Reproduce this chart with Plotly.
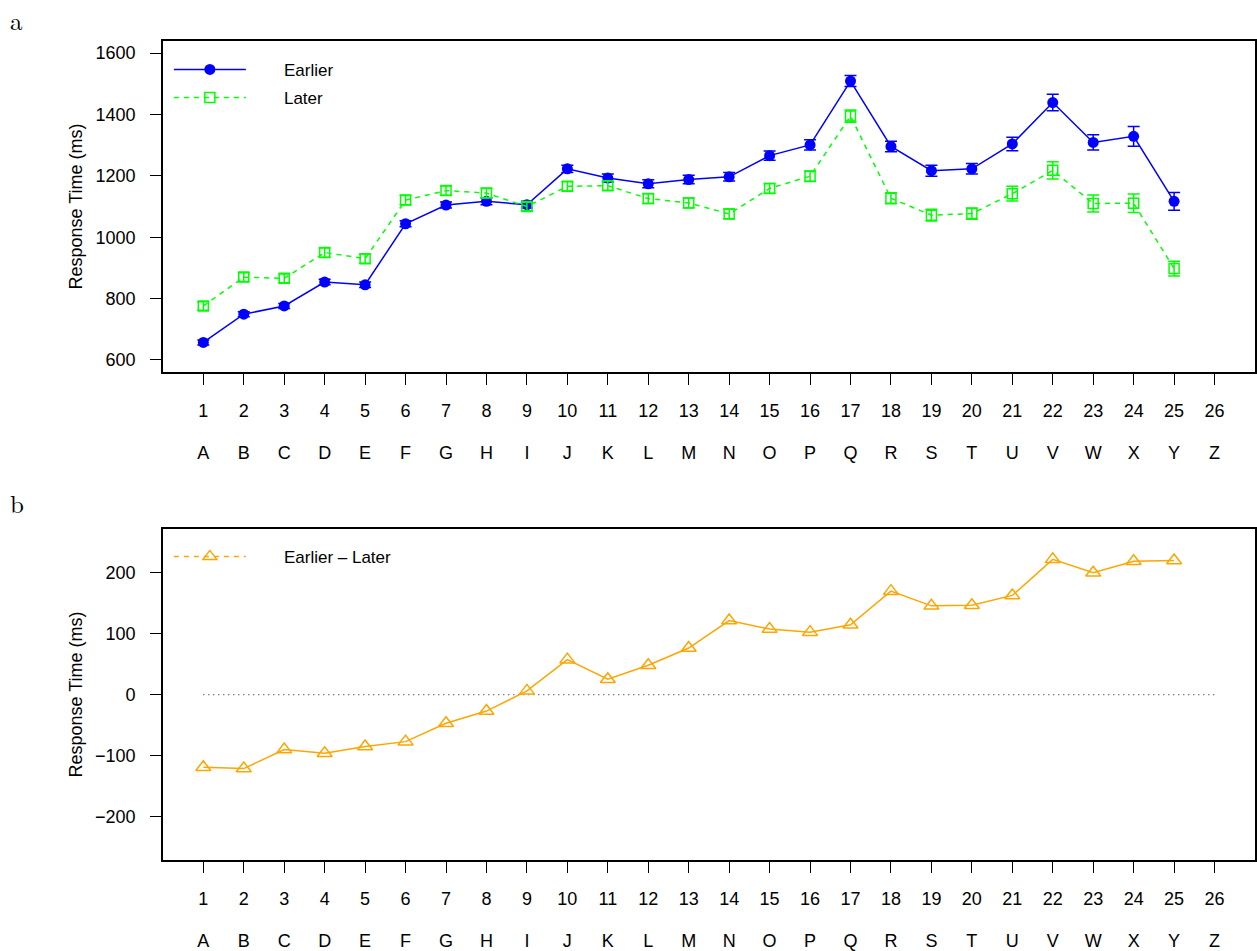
import plotly.graph_objects as go

# Stimulus positions and their two label rows
positions = list(range(1, 26))
tick_positions = list(range(1, 27))
tick_numbers = [str(i) for i in range(1, 27)]
tick_letters = [chr(ord("A") + i) for i in range(26)]

# Mean response times (ms) and standard errors
earlier = [657, 749, 776, 854, 845, 1044, 1105, 1117, 1106, 1223, 1193, 1174, 1188,
           1197, 1266, 1301, 1509, 1296, 1217, 1223, 1304, 1439, 1309, 1329, 1117]
later = [776, 870, 866, 950, 930, 1121, 1152, 1144, 1100, 1166, 1168, 1126, 1112,
         1076, 1159, 1199, 1395, 1127, 1072, 1077, 1142, 1218, 1110, 1111, 898]
earlier_se = [8, 8, 8, 9, 9, 10, 10, 11, 11, 12, 13, 13, 14, 14, 15, 17, 18, 17, 18,
              17, 22, 27, 25, 32, 29]
later_se = [14, 14, 14, 15, 15, 15, 15, 15, 14, 15, 15, 16, 16, 16, 16, 17, 20, 18,
            19, 18, 24, 28, 28, 30, 24]
difference = [e - l for e, l in zip(earlier, later)]

W, H = 1257, 951
BLUE, GREEN, ORANGE = "#0000FF", "#00FF00", "#FFA500"
FONT = "Liberation Sans, Arial, sans-serif"
SERIF = "Latin Modern Roman, Liberation Serif, serif"
PAD = "\u00a0" * 7  # gap between legend sample and its label


def px_x(p):
    return p / W


def px_y(p):
    return 1 - p / H


fig = go.Figure()

# Panel a
fig.add_trace(go.Scatter(
    x=positions, y=earlier, name=PAD + "Earlier", xaxis="x", yaxis="y",
    mode="lines+markers", legend="legend", legendgroup="e",
    line=dict(color=BLUE, width=1.5),
    marker=dict(symbol="circle", size=11, color=BLUE),
    error_y=dict(type="data", array=earlier_se, color=BLUE, thickness=1.5, width=6),
))
fig.add_trace(go.Scatter(
    x=positions, y=later, name=PAD + "Later", xaxis="x", yaxis="y",
    mode="lines+markers", legend="legend", legendgroup="l",
    line=dict(color=GREEN, width=1.5, dash="5px,5px"),
    marker=dict(symbol="square-open", size=10, color=GREEN, line=dict(width=1.5, color=GREEN)),
    error_y=dict(type="data", array=later_se, color=GREEN, thickness=1.5, width=6),
))
# carrier for the letter row of panel a
fig.add_trace(go.Scatter(x=positions, y=earlier, xaxis="x3", yaxis="y", mode="lines",
                         opacity=0, showlegend=False, hoverinfo="skip"))

# Panel b
fig.add_trace(go.Scatter(
    x=[1, 26], y=[0, 0], xaxis="x2", yaxis="y2", mode="lines",
    line=dict(color="#444444", width=1.2, dash="1px,4px"), showlegend=False, hoverinfo="skip",
))
fig.add_trace(go.Scatter(
    x=positions, y=difference, xaxis="x2", yaxis="y2", mode="lines+markers",
    showlegend=False,
    line=dict(color=ORANGE, width=1.5),
    marker=dict(symbol="triangle-up-open", size=13, color=ORANGE, line=dict(width=1.5, color=ORANGE)),
))
fig.add_trace(go.Scatter(
    x=[None], y=[None], xaxis="x2", yaxis="y2", name=PAD + "Earlier – Later",
    mode="lines+markers", legend="legend2",
    line=dict(color=ORANGE, width=1.5, dash="5px,5px"),
    marker=dict(symbol="triangle-up-open", size=12, color=ORANGE, line=dict(width=1.5, color=ORANGE)),
))
fig.add_trace(go.Scatter(x=positions, y=difference, xaxis="x4", yaxis="y2", mode="lines",
                         opacity=0, showlegend=False, hoverinfo="skip"))

x_dom = [px_x(163), px_x(1256)]
top_dom = [px_y(373), px_y(41)]
bot_dom = [px_y(862), px_y(530)]

common_x = dict(range=[0, 27], tickmode="array", tickvals=tick_positions,
                showgrid=False, zeroline=False, tickfont=dict(family=FONT, size=18, color="black"))
frame_x = dict(common_x, ticktext=tick_numbers, ticks="outside", ticklen=11, tickwidth=1.2,
               tickcolor="black", showline=True, mirror=True, linecolor="black", linewidth=1.5,
               ticklabelstandoff=10)
letter_x = dict(common_x, ticktext=tick_letters, ticks="", showline=False, side="bottom",
                ticklabelstandoff=68)
frame_y = dict(showgrid=False, zeroline=False, ticks="outside", ticklen=11, tickwidth=1.2,
               tickcolor="black", showline=True, mirror=True, linecolor="black", linewidth=1.5,
               tickfont=dict(family=FONT, size=18, color="black"), ticklabelstandoff=11,
               title=dict(text="Response Time (ms)", font=dict(family=FONT, size=18, color="black"),
                          standoff=8))

fig.update_layout(
    width=W, height=H,
    margin=dict(l=0, r=0, t=0, b=0),
    paper_bgcolor="white", plot_bgcolor="white",
    xaxis=dict(frame_x, domain=x_dom, anchor="y"),
    yaxis=dict(frame_y, domain=top_dom, anchor="x", range=[560, 1640],
               tickvals=[600, 800, 1000, 1200, 1400, 1600]),
    xaxis3=dict(letter_x, domain=x_dom, anchor="y", overlaying="x"),
    xaxis2=dict(frame_x, domain=x_dom, anchor="y2"),
    yaxis2=dict(frame_y, domain=bot_dom, anchor="x2", range=[-270.8, 270.8],
                tickvals=[-200, -100, 0, 100, 200]),
    xaxis4=dict(letter_x, domain=x_dom, anchor="y2", overlaying="x2"),
    legend=dict(x=px_x(169), y=px_y(52), xanchor="left", yanchor="top",
                bgcolor="rgba(0,0,0,0)", borderwidth=0, itemwidth=72,
                tracegroupgap=3, font=dict(family=FONT, size=17, color="black")),
    legend2=dict(x=px_x(169), y=px_y(540), xanchor="left", yanchor="top",
                 bgcolor="rgba(0,0,0,0)", borderwidth=0, itemwidth=72,
                 font=dict(family=FONT, size=17, color="black")),
    annotations=[
        dict(text="a", x=px_x(17), y=px_y(0), xref="paper", yref="paper", showarrow=False,
             xanchor="center", yanchor="top",
             font=dict(family=SERIF, size=25, color="black")),
        dict(text="b", x=px_x(17), y=px_y(484), xref="paper", yref="paper", showarrow=False,
             xanchor="center", yanchor="top",
             font=dict(family=SERIF, size=25, color="black")),
    ],
)

fig.write_html("out.html")
